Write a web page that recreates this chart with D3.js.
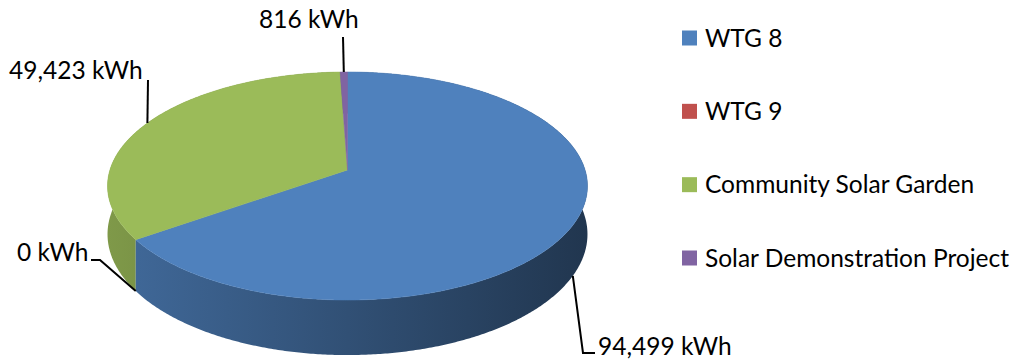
<!DOCTYPE html>
<html>
<head>
<meta charset="utf-8">
<script src="https://cdn.jsdelivr.net/npm/d3@7"></script>
<style>
  html, body { margin: 0; padding: 0; background: #fff; }
  svg { display: block; }
  text { font-family: Lato, "Open Sans", sans-serif; fill: #000; }
</style>
</head>
<body>
<svg id="chart" width="1019" height="364"></svg>
<script>
// Energy produced by source
const categories = ["WTG 8", "WTG 9", "Community Solar Garden", "Solar Demonstration Project"];
const values = [94499, 0, 49423, 816];
const colors = ["#4f81bd", "#c0504d", "#9bbb59", "#8064a2"];
const valueLabels = values.map(v => d3.format(",")(v) + " kWh");

// 3-D pie geometry (perspective-projected disc)
const cx = 347.5, cy = 170;   // projected centre of the disc
const a = 237.6, b = 111.8;   // horizontal / depth radii
const persp = 0.1403;         // perspective strength
const depth = 47.3;           // wall height

const svg = d3.select("#chart");
const defs = svg.append("defs");

function proj(theta, r, z) {
  const u = r * Math.sin(theta), v = -r * Math.cos(theta);
  const w = 1 - persp * v;
  return [cx + a * u / w, cy + b * v / w + z / w];
}

const pie = d3.pie().sort(null).startAngle(0).endAngle(2 * Math.PI);
const arcs = pie(values).filter(d => d.endAngle > d.startAngle);

// wall shading: lighter on the left, darker on the right
const xSpan = a / Math.sqrt(1 - persp * persp);
const shade = d3.scaleLinear().domain([cx - xSpan, cx + xSpan]).range([0.82, 0.42]);
function shadeColor(c, f) {
  const rgb = d3.rgb(c);
  return d3.rgb(rgb.r * f, rgb.g * f, rgb.b * f).formatHex();
}
colors.forEach((c, i) => {
  const g = defs.append("linearGradient")
    .attr("id", "wall" + i)
    .attr("gradientUnits", "userSpaceOnUse")
    .attr("x1", cx - xSpan).attr("x2", cx + xSpan)
    .attr("y1", 0).attr("y2", 0);
  shade.domain().forEach((x, k) => {
    g.append("stop").attr("offset", k).attr("stop-color", shadeColor(c, shade(x)));
  });
});

const step = Math.PI / 360;
function arcPoints(t0, t1, z) {
  const n = Math.max(2, Math.ceil((t1 - t0) / step));
  return d3.range(n + 1).map(k => proj(t0 + (t1 - t0) * k / n, 1, z));
}

const line = d3.line();

// outer walls, far slices first
const wallOrder = arcs.slice().sort((p, q) =>
  -Math.cos((p.startAngle + p.endAngle) / 2) - -Math.cos((q.startAngle + q.endAngle) / 2));
svg.append("g").selectAll("path").data(wallOrder).join("path")
  .attr("d", d => {
    const top = arcPoints(d.startAngle, d.endAngle, 0);
    const bottom = arcPoints(d.startAngle, d.endAngle, depth).reverse();
    return line(top.concat(bottom)) + "Z";
  })
  .attr("fill", d => `url(#wall${d.index})`);

// top face
svg.append("g").selectAll("path").data(arcs).join("path")
  .attr("d", d => line([proj(0, 0, 0)].concat(arcPoints(d.startAngle, d.endAngle, 0))) + "Z")
  .attr("fill", d => colors[d.index])
  .attr("stroke", d => colors[d.index])
  .attr("stroke-width", 0.5);

// data labels with leader lines
function anchorOf(d) {
  const tm = (d.startAngle + d.endAngle) / 2;
  const front = -Math.cos(tm) > 0;
  return proj(tm, 1, front ? depth : 0);
}
const labelLayout = [
  { x: 598, y: 355, path: [[583, 353], [595, 353]] },
  { x: 17,  y: 261, path: [[100, 260], [91, 260]] },
  { x: 9,   y: 79,  path: [[148, 80]] },
  { x: 259, y: 28,  path: [[343, 37]] }
];
const labels = svg.append("g");
pie(values).forEach((d, i) => {
  const L = labelLayout[i];
  labels.append("path")
    .attr("d", line([anchorOf(d)].concat(L.path)))
    .attr("fill", "none")
    .attr("stroke", "#000")
    .attr("stroke-width", 2);
  labels.append("text")
    .attr("x", L.x).attr("y", L.y)
    .attr("font-size", 24.5)
    .text(valueLabels[i]);
});

// legend
const legendY = d3.scalePoint().domain(categories).range([38, 258]);
const legend = svg.append("g").selectAll("g").data(categories).join("g")
  .attr("transform", d => `translate(682,${legendY(d)})`);
legend.append("rect")
  .attr("x", 0).attr("y", -7.5).attr("width", 15).attr("height", 15)
  .attr("fill", (d, i) => colors[i]);
legend.append("text")
  .attr("x", 23).attr("y", 8.5)
  .attr("font-size", 24.5)
  .text(d => d);
</script>
</body>
</html>
